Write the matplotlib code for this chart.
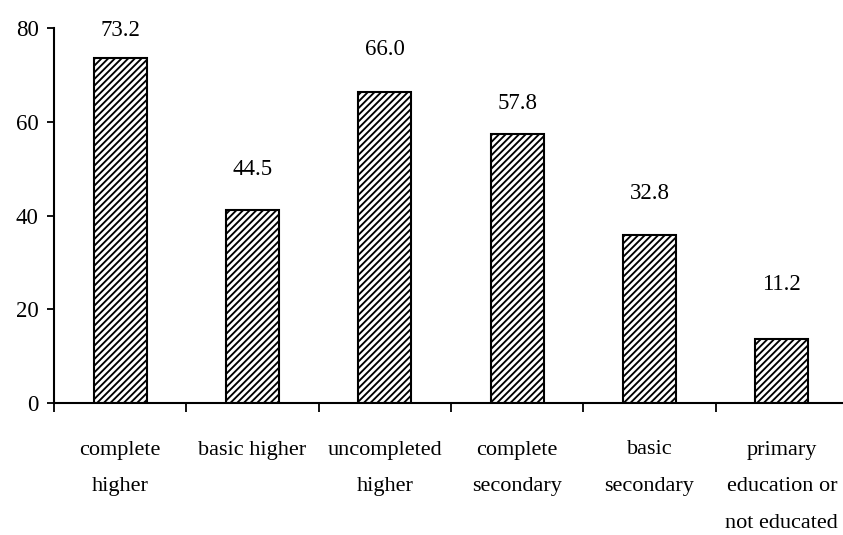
import numpy as np
import matplotlib
matplotlib.use("Agg")
import matplotlib.pyplot as plt

# data
categories = ["complete\nhigher", "basic higher", "uncompleted\nhigher",
              "complete\nsecondary", "basic\nsecondary",
              "primary\neducation or\nnot educated"]
bar_values = [73.6, 41.2, 66.3, 57.3, 35.8, 13.7]
value_labels = ["73.2", "44.5", "66.0", "57.8", "32.8", "11.2"]

# label offsets above the bar tops (points), as in the original
label_offsets = [20, 29, 31, 22, 30, 39]

plt.rcParams['font.family'] = ['Liberation Serif', 'DejaVu Serif']
plt.rcParams['hatch.linewidth'] = 1.35

fig = plt.figure(figsize=(8.43, 5.35), dpi=100)
ax = fig.add_axes([54 / 843, 132 / 535, (848 - 54) / 843, 375 / 535])

x = np.arange(len(categories))
bars = ax.bar(x, bar_values, width=0.4, color='white', edgecolor='black',
              linewidth=1.5, hatch='/////')

for b, txt, off in zip(bars, value_labels, label_offsets):
    ax.annotate(txt, (b.get_x() + b.get_width() / 2, b.get_height()),
                xytext=(0, off), textcoords='offset points',
                ha='center', va='center', fontsize=16.5)

ax.set_xlim(-0.5, len(categories) - 0.5)
ax.set_ylim(0, 80)
ax.set_yticks([0, 20, 40, 60, 80])
ax.set_xticks(x)
ax.set_xticklabels(categories, fontsize=16, linespacing=2.25)
ax.set_xticks(np.arange(-0.5, len(categories)), minor=True)
ax.tick_params(axis='x', which='major', length=0, pad=27)
ax.tick_params(axis='x', which='minor', length=6.5, width=1.3, direction='out')
ax.tick_params(axis='y', length=5, width=1.3, labelsize=16.5, pad=6)

for s in ['top', 'right']:
    ax.spines[s].set_visible(False)
for s in ['left', 'bottom']:
    ax.spines[s].set_linewidth(1.5)

fig.savefig("out.png", dpi=100)
